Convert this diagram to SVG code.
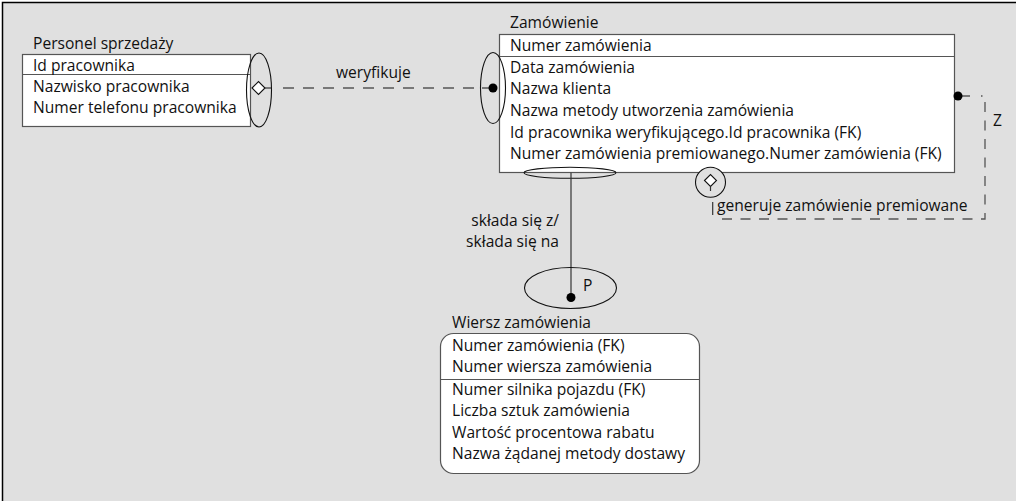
<svg xmlns="http://www.w3.org/2000/svg" width="1016" height="501" viewBox="0 0 1016 501">
<style>
  text { font-family: "Open Sans", "Noto Sans", "Liberation Sans", sans-serif; font-size: 15.6px; fill: #111111; }
  .box { fill: #ffffff; stroke: #555555; stroke-width: 1.2; }
  .sep { stroke: #555555; stroke-width: 1.2; fill: none; }
  .ell { fill: none; stroke: #111111; stroke-width: 1.1; }
  .solid { fill: none; stroke: #333333; stroke-width: 1.2; }
  .dash { fill: none; stroke: #555555; stroke-width: 1.3; stroke-dasharray: 11 9; }
  .dot { fill: #000000; }
</style>
<rect x="0" y="0" width="1016" height="501" fill="#ffffff"/>
<rect x="2.5" y="2.5" width="1014" height="499" fill="#e0e0e0"/>
<path d="M2.5,501 V2.5 H1016" fill="none" stroke="#000000" stroke-width="1.5"/>

<g id="personel-sprzedazy">
  <text x="33" y="49">Personel sprzedaży</text>
  <rect class="box" x="22.5" y="54.5" width="228" height="72"/>
  <path class="sep" d="M22.5,74.5 H250.5"/>
  <text x="33" y="71">Id pracownika</text>
  <text x="33" y="92">Nazwisko pracownika</text>
  <text x="33" y="113">Numer telefonu pracownika</text>
</g>

<g id="zamowienie">
  <text x="510" y="28">Zamówienie</text>
  <rect class="box" x="499.5" y="34.5" width="455" height="138"/>
  <path class="sep" d="M499.5,56.5 H954.5"/>
  <text x="510" y="51">Numer zamówienia</text>
  <text x="510" y="73">Data zamówienia</text>
  <text x="510" y="94">Nazwa klienta</text>
  <text x="510" y="115.5">Nazwa metody utworzenia zamówienia</text>
  <text x="510" y="137.5">Id pracownika weryfikującego.Id pracownika (FK)</text>
  <text x="510" y="158.5">Numer zamówienia premiowanego.Numer zamówienia (FK)</text>
</g>

<g id="wiersz-zamowienia">
  <text x="452" y="328">Wiersz zamówienia</text>
  <rect class="box" x="440.5" y="333.5" width="259" height="140" rx="13" ry="13"/>
  <path class="sep" d="M440.5,379.5 H699.5"/>
  <text x="452" y="351">Numer zamówienia (FK)</text>
  <text x="452" y="372">Numer wiersza zamówienia</text>
  <text x="452" y="395">Numer silnika pojazdu (FK)</text>
  <text x="452" y="416">Liczba sztuk zamówienia</text>
  <text x="452" y="438">Wartość procentowa rabatu</text>
  <text x="452" y="459">Nazwa żądanej metody dostawy</text>
</g>

<g id="connectors">
  <!-- weryfikuje -->
  <ellipse class="ell" cx="259" cy="90" rx="12.5" ry="37"/>
  <polygon points="252,88 258.5,81.5 265,88 258.5,94.5" fill="#ffffff" stroke="#111111" stroke-width="1.1"/>
  <path class="solid" d="M265,88 H271"/>
  <path class="dash" d="M283,88 H480"/>
  <path class="solid" d="M482,88 H493"/>
  <ellipse class="ell" cx="493" cy="88" rx="12.5" ry="35.5"/>
  <circle class="dot" cx="493" cy="88" r="4.5"/>
  <text x="336" y="78">weryfikuje</text>

  <!-- składa się z / składa się na -->
  <ellipse class="ell" cx="570" cy="172.8" rx="46" ry="5.5"/>
  <path class="solid" d="M571,172.8 V297"/>
  <ellipse class="ell" cx="570.5" cy="288" rx="46" ry="20.5"/>
  <circle class="dot" cx="571" cy="297.5" r="4.5"/>
  <text x="583" y="291">P</text>
  <text x="559" y="226" text-anchor="end">składa się z/</text>
  <text x="559" y="247" text-anchor="end">składa się na</text>

  <!-- generuje zamówienie premiowane -->
  <circle cx="710.5" cy="182.3" r="15" fill="#e0e0e0" stroke="#111111" stroke-width="1.1"/>
  <polygon points="704.5,180.5 710.5,174.5 716.5,180.5 710.5,186.5" fill="#ffffff" stroke="#111111" stroke-width="1.1"/>
  <path class="solid" d="M710.5,186.5 V191"/>
  <path class="solid" d="M712.7,202 V215"/>
  <path class="dash" style="stroke-dasharray:10 8.5" d="M722,219 H985 V96 H981"/>
  <path class="solid" d="M958,96 H970"/>
  <circle class="dot" cx="958" cy="96" r="4.5"/>
  <text x="717" y="211">generuje zamówienie premiowane</text>
  <text x="993" y="126">Z</text>
</g>
</svg>
